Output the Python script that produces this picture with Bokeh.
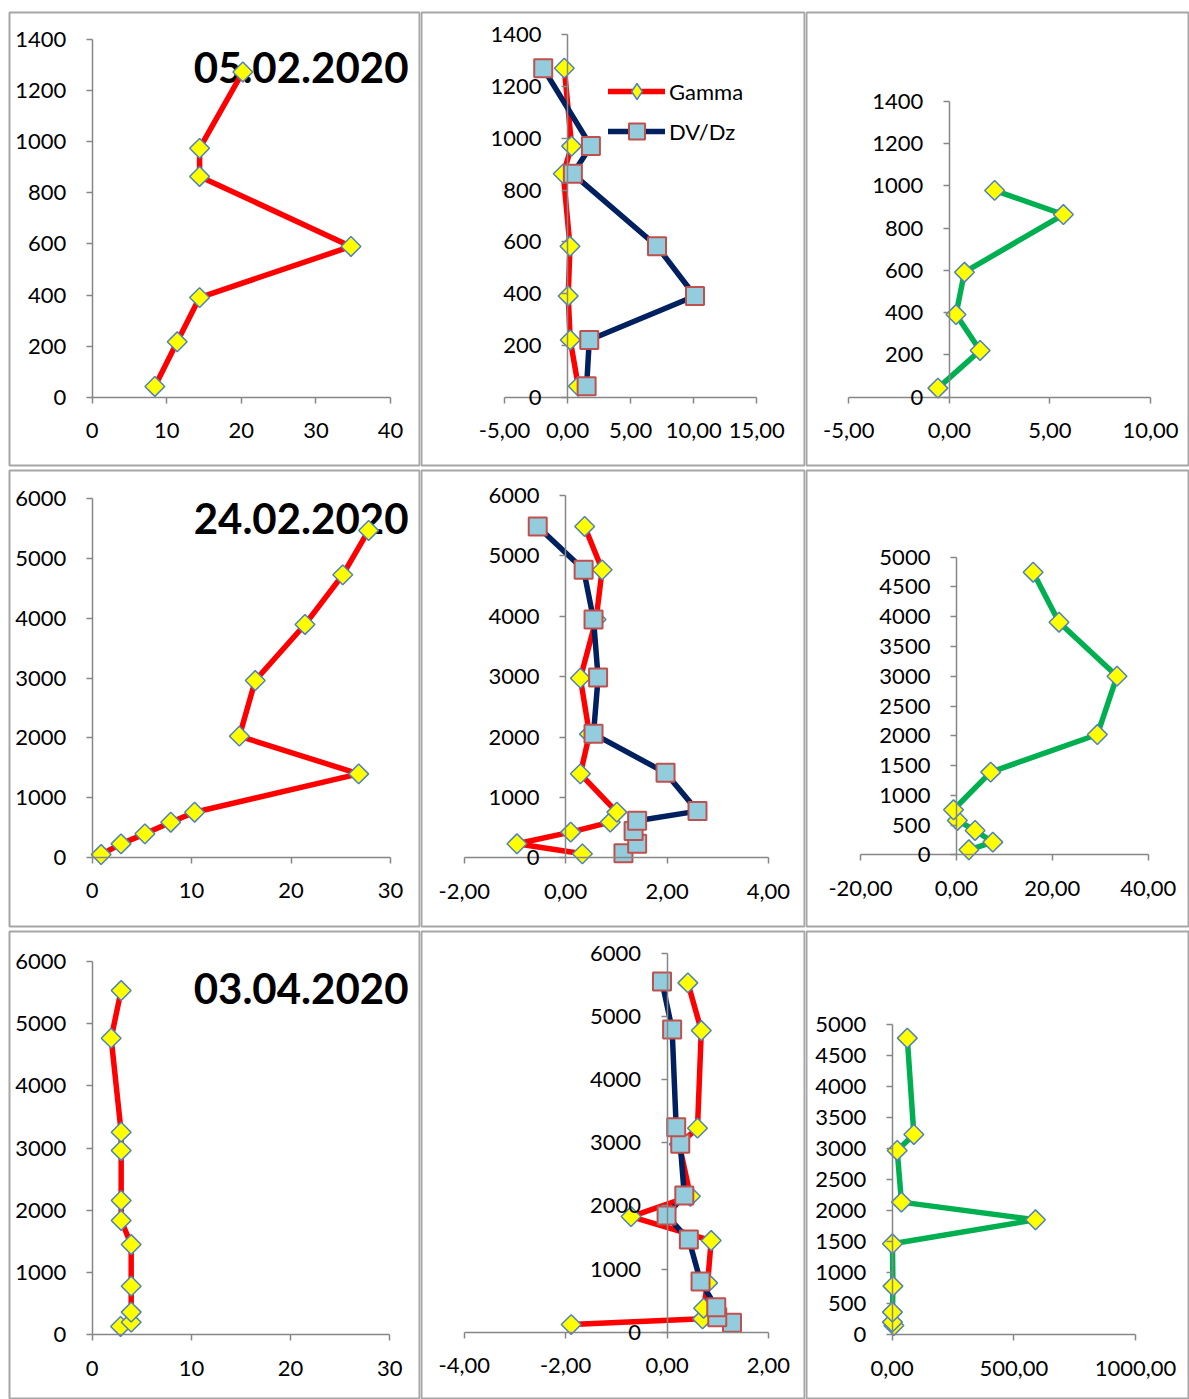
import math
from bokeh.plotting import figure
from bokeh.models import (Range1d, FixedTicker, CustomJSTickFormatter, Label,
                          Legend, LegendItem)
from bokeh.layouts import column, row
from bokeh.embed import file_html
from bokeh.resources import INLINE

# ---------------- data ----------------
dates = ["05.02.2020", "24.02.2020", "03.04.2020"]

# 05.02.2020
h1_left = [42, 217, 390, 590, 864, 974, 1273]
v1_left = [8.4, 11.4, 14.4, 34.7, 14.4, 14.4, 20.2]
h1_gamma = [42, 221, 391, 583, 863, 970, 1271]
v1_gamma = [0.85, 0.21, 0.05, 0.19, -0.34, 0.32, -0.26]
h1_dvdz = [42, 221, 391, 583, 863, 970, 1271]
v1_dvdz = [1.51, 1.72, 10.1, 7.09, 0.42, 1.85, -1.93]
h1_right = [43, 221, 391, 591, 864, 978]
v1_right = [-0.57, 1.53, 0.33, 0.75, 5.67, 2.25]

# 24.02.2020
h2_left = [45, 223, 391, 586, 753, 1395, 2026, 2958, 3896, 4727, 5470]
v2_left = [0.9, 2.9, 5.3, 7.9, 10.3, 26.8, 14.8, 16.4, 21.4, 25.2, 27.8]
h2_gamma = [66, 232, 425, 591, 756, 1391, 2048, 2975, 3947, 4769, 5487]
v2_gamma = [0.33, -0.96, 0.10, 0.88, 1.01, 0.29, 0.47, 0.29, 0.60, 0.72, 0.375]
h2_dvdz = [77, 232, 442, 613, 773, 1407, 2053, 2986, 3947, 4769, 5487]
v2_dvdz = [1.14, 1.41, 1.34, 1.41, 2.60, 1.97, 0.55, 0.64, 0.55, 0.355, -0.55]
h2_right = [84, 213, 409, 577, 756, 1389, 2021, 3001, 3908, 4748]
v2_right = [2.6, 7.6, 3.9, 0.2, -0.6, 7.15, 29.4, 33.5, 21.4, 16.0]

# 03.04.2020
h3_left = [134, 203, 364, 781, 1450, 1836, 2157, 2960, 3254, 4764, 5529]
v3_left = [2.86, 3.93, 3.93, 3.93, 3.93, 2.92, 2.92, 2.92, 2.92, 1.91, 2.92]
h3_gamma = [121, 211, 380, 781, 1451, 1831, 2153, 2975, 3230, 4776, 5530]
v3_gamma = [-1.89, 0.70, 0.72, 0.80, 0.87, -0.71, 0.46, 0.24, 0.60, 0.675, 0.41]
h3_dvdz = [148, 237, 396, 802, 1467, 1847, 2164, 2982, 3245, 4792, 5551]
v3_dvdz = [1.28, 0.99, 0.97, 0.66, 0.43, -0.01, 0.34, 0.26, 0.18, 0.10, -0.10]
h3_right = [150, 204, 366, 785, 1468, 1855, 2140, 2973, 3231, 4785]
v3_right = [7, 1, 1, 3, 1, 589, 38, 20.5, 89, 62]

# tick values
xt_left_1 = [0, 10, 20, 30, 40]
xt_left_23 = [0, 10, 20, 30]
xt_mid_1 = [-5, 0, 5, 10, 15]
xt_mid_2 = [-2, 0, 2, 4]
xt_mid_3 = [-4, -2, 0, 2]
xt_right_1 = [-5, 0, 5, 10]
xt_right_2 = [-20, 0, 20, 40]
xt_right_3 = [0, 500, 1000]
yt_1400 = list(range(0, 1401, 200))
yt_6000 = list(range(0, 6001, 1000))
yt_5000 = list(range(0, 5001, 500))

# ---------------- layout / style ----------------
FONT = "Lato"
RED, NAVY, GREEN = "#FF0000", "#002060", "#00B050"
FIG_X = [(0, 420), (420, 805), (805, 1189)]
FIG_Y = [(0, 467), (467, 928), (928, 1399)]
FRAME_X = [(9, 419), (421, 805), (806, 1189)]
FRAME_Y = [(12, 465), (470, 926), (931, 1399)]
TITLE_Y = [67, 518, 988]
TITLE_RIGHT = 408

panels = [
    dict(r=0, c=0, xcal=(0, 91.7, 40, 390), ycal=(0, 396.7, 1400, 39),
         xt=xt_left_1, yt=yt_1400, dec=False, title=dates[0],
         series=[(h1_left, v1_left, RED, "d", None)]),
    dict(r=0, c=1, xcal=(-5, 504, 15, 756.3), ycal=(0, 396.7, 1400, 34.3),
         xt=xt_mid_1, yt=yt_1400, dec=True, legend=(187, 314),
         series=[(h1_gamma, v1_gamma, RED, "d", "Gamma"),
                 (h1_dvdz, v1_dvdz, NAVY, "s", "DV/Dz")]),
    dict(r=0, c=2, xcal=(-5, 848.3, 10, 1150), ycal=(0, 396.7, 1400, 100.7),
         xt=xt_right_1, yt=yt_1400, dec=True,
         series=[(h1_right, v1_right, GREEN, "d", None)]),
    dict(r=1, c=0, xcal=(0, 91.7, 30, 390), ycal=(0, 856.7, 6000, 498.3),
         xt=xt_left_23, yt=yt_6000, dec=False, title=dates[1],
         series=[(h2_left, v2_left, RED, "d", None)]),
    dict(r=1, c=1, xcal=(-2, 463.7, 4, 768), ycal=(0, 857.3, 6000, 495),
         xt=xt_mid_2, yt=yt_6000, dec=True,
         series=[(h2_gamma, v2_gamma, RED, "d", None),
                 (h2_dvdz, v2_dvdz, NAVY, "s", None)]),
    dict(r=1, c=2, xcal=(-20, 860, 40, 1147.7), ycal=(0, 854.3, 5000, 556.7),
         xt=xt_right_2, yt=yt_5000, dec=True,
         series=[(h2_right, v2_right, GREEN, "d", None)]),
    dict(r=2, c=0, xcal=(0, 91.7, 30, 389.3), ycal=(0, 1334.3, 6000, 960.7),
         xt=xt_left_23, yt=yt_6000, dec=False, title=dates[2],
         series=[(h3_left, v3_left, RED, "d", None)]),
    dict(r=2, c=1, xcal=(-4, 463.7, 2, 768), ycal=(0, 1331.7, 6000, 952.7),
         xt=xt_mid_3, yt=yt_6000, dec=True,
         series=[(h3_gamma, v3_gamma, RED, "d", None),
                 (h3_dvdz, v3_dvdz, NAVY, "s", None)]),
    dict(r=2, c=2, xcal=(0, 891.7, 1000, 1135), ycal=(0, 1334.3, 5000, 1024.3),
         xt=xt_right_3, yt=yt_5000, dec=True,
         series=[(h3_right, v3_right, GREEN, "d", None)]),
]

DIAMOND = dict(fill_color="#FFFF00", line_color="#4F81BD", line_width=1.5)
SQUARE = dict(fill_color="#93CDDD", line_color="#C0504D", line_width=2)


def make_panel(cfg):
    r, c = cfg["r"], cfg["c"]
    fx0, fx1 = FIG_X[c]
    fy0, fy1 = FIG_Y[r]
    bx0, bx1 = FRAME_X[c]
    by0, by1 = FRAME_Y[r]
    xa, xpa, xb, xpb = cfg["xcal"]
    ya, ypa, yb, ypb = cfg["ycal"]
    sx = (xpb - xpa) / (xb - xa)
    sy = (ypb - ypa) / (yb - ya)

    def xv(px):
        return xa + (px - xpa) / sx

    def yv(py):
        return ya + (py - ypa) / sy

    p = figure(width=fx1 - fx0, height=fy1 - fy0,
               x_range=Range1d(xv(bx0), xv(bx1)),
               y_range=Range1d(yv(by1), yv(by0)),
               output_backend="svg", toolbar_location=None, title=None,
               min_border_left=bx0 - fx0, min_border_right=fx1 - bx1,
               min_border_top=by0 - fy0, min_border_bottom=fy1 - by1,
               background_fill_color="white", border_fill_color="white",
               outline_line_color="#A6A6A6", outline_line_width=2)
    p.grid.visible = False

    xax, yax = p.xaxis[0], p.yaxis[0]
    xax.fixed_location = 0
    yax.fixed_location = 0
    xax.ticker = FixedTicker(ticks=cfg["xt"])
    yax.ticker = FixedTicker(ticks=cfg["yt"])
    xax.bounds = (min(cfg["xt"]), max(cfg["xt"]))
    yax.bounds = (min(cfg["yt"]), max(cfg["yt"]))
    if cfg["dec"]:
        xax.formatter = CustomJSTickFormatter(
            code="return tick.toFixed(2).replace('.', ',');")
    for ax in (xax, yax):
        ax.axis_line_color = "#868686"
        ax.axis_line_width = 1.5
        ax.major_tick_line_color = "#868686"
        ax.major_tick_line_width = 1.5
        ax.major_tick_out = 6
        ax.major_tick_in = 0
        ax.minor_tick_line_color = None
        ax.major_label_text_font = FONT
        ax.major_label_text_font_size = "22px"
        ax.major_label_text_color = "black"
        ax.major_label_standoff = 20

    items = []
    for h, v, color, mk, lab in cfg["series"]:
        ln = p.line(v, h, line_color=color, line_width=5.5,
                    line_join="round", line_cap="round")
        if mk == "d":
            # plain diamond (hidden under the rotated squares) used as legend key
            key = p.scatter(v, h, marker="diamond", size=16, **DIAMOND)
            p.scatter(v, h, marker="square", angle=math.pi / 4, size=14, **DIAMOND)
        else:
            key = p.scatter(v, h, marker="square", size=18, **SQUARE)
        if lab:
            items.append(LegendItem(label=lab, renderers=[ln, key]))

    if items:
        leg = Legend(items=items, location=cfg["legend"], glyph_width=57,
                     glyph_height=40, label_height=40, spacing=0, padding=0,
                     margin=0, label_standoff=4, border_line_color=None,
                     background_fill_alpha=0, label_text_font=FONT,
                     label_text_font_size="22px", label_text_color="black")
        p.add_layout(leg)

    if cfg.get("title"):
        p.add_layout(Label(x=xv(TITLE_RIGHT), y=yv(TITLE_Y[r]), text=cfg["title"],
                           text_font=FONT, text_font_style="bold",
                           text_font_size="42px", text_color="black",
                           text_align="right", text_baseline="middle",
                           level="underlay"))
    return p


figs = [make_panel(cfg) for cfg in panels]
layout = column(row(*figs[0:3]), row(*figs[3:6]), row(*figs[6:9]))

open("out.html", "w").write(file_html(layout, INLINE))
